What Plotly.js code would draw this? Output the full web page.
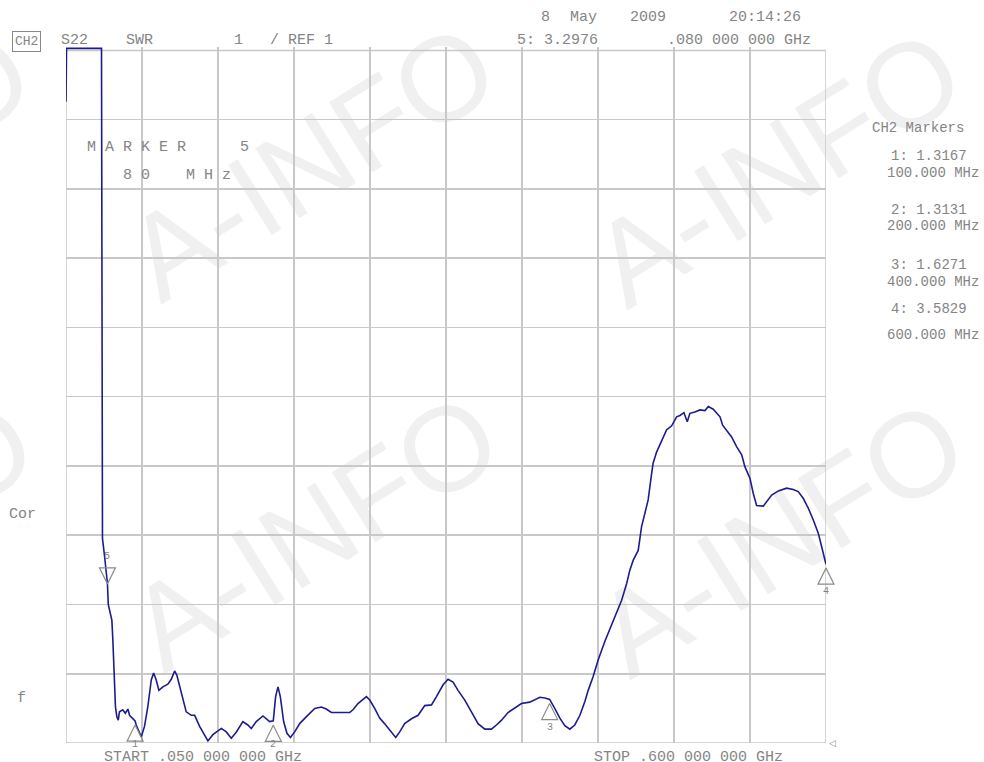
<!DOCTYPE html>
<html><head><meta charset="utf-8">
<script src="https://cdn.plot.ly/plotly-3.0.1.min.js"></script>
<style>html,body{margin:0;padding:0;background:#fff;}#chart{width:984px;height:762px;}</style>
</head><body><div id="chart"></div>
<script>
// ---- data ----
const freqMHz = [
 50, 50.2, 50.4, 75.7, 76.1, 76.4, 77.9, 79.2, 80.0, 80.6,
 82.0, 83.2, 83.9, 84.6, 85.8, 86.8, 87.8, 88.7, 91.1, 92.9,
 94.8, 96.0, 98.4, 100.0, 100.8, 103.2, 104.5, 106.8, 109.2, 111.7,
 113.4, 115.3, 117.2, 120.1, 123.7, 126.2, 128.6, 130.2, 132.2, 134.6,
 137.0, 140.7, 143.1, 146.7, 152.7, 156.3, 162.4, 166.0, 169.6, 173.3,
 178.0, 181.6, 184.1, 187.7, 192.5, 197.4, 200.0, 201.7, 203.4, 205.1,
 207.5, 209.9, 212.4, 215.5, 219.1, 224.0, 230.0, 234.8, 238.4, 242.0,
 255.3, 257.7, 261.3, 267.4, 269.8, 273.4, 277.0, 280.5, 284.3, 288.6,
 291.5, 295.1, 300.0, 304.8, 309.6, 314.5, 318.1, 322.9, 326.5, 330.1,
 333.7, 338.6, 343.4, 348.2, 353.1, 357.9, 361.5, 365.2, 369.9, 374.8,
 379.6, 385.6, 389.3, 392.9, 396.5, 400.0, 403.7, 407.4, 411.0, 414.6,
 418.2, 421.9, 425.5, 427.9, 431.5, 435.1, 440.0, 445.0, 448.6, 452.1,
 455.7, 458.1, 460.5, 464.1, 466.5, 468.9, 471.3, 473.8, 474.9, 477.4,
 481.0, 484.6, 488.3, 491.9, 494.3, 497.2, 499.6, 501.5, 505.1, 508.8,
 512.4, 514.8, 518.4, 520.9, 523.3, 525.2, 528.1, 531.7, 535.3, 539.0,
 541.3, 545.0, 547.4, 549.8, 554.6, 558.2, 560.7, 565.5, 571.5, 576.3,
 579.9, 583.6, 587.2, 590.8, 594.4, 596.9, 600.0
];
const swr = [
 10.26, 10.64, 11.03, 11.03, 7.4, 3.95, 3.7, 3.42, 3.3, 3.0,
 2.85, 2.77, 2.49, 2.10, 1.52, 1.38, 1.33, 1.45, 1.48, 1.43,
 1.49, 1.40, 1.35, 1.32, 1.26, 1.14, 1.09, 1.24, 1.52, 1.91,
 2.01, 1.91, 1.76, 1.81, 1.85, 1.92, 2.04, 1.98, 1.81, 1.62,
 1.45, 1.40, 1.40, 1.24, 1.03, 1.12, 1.21, 1.16, 1.07, 1.16,
 1.31, 1.26, 1.21, 1.31, 1.39, 1.31, 1.32, 1.67, 1.81, 1.67,
 1.31, 1.14, 1.08, 1.16, 1.28, 1.38, 1.50, 1.52, 1.49, 1.44,
 1.44, 1.48, 1.57, 1.67, 1.62, 1.50, 1.36, 1.28, 1.19, 1.08,
 1.16, 1.28, 1.35, 1.40, 1.54, 1.55, 1.67, 1.84, 1.92, 1.88,
 1.76, 1.62, 1.45, 1.28, 1.20, 1.20, 1.26, 1.33, 1.44, 1.50,
 1.57, 1.59, 1.62, 1.66, 1.65, 1.63, 1.50, 1.36, 1.25, 1.20,
 1.26, 1.40, 1.60, 1.76, 1.96, 2.20, 2.47, 2.72, 2.89, 3.06,
 3.30, 3.50, 3.64, 3.78, 4.12, 4.31, 4.51, 4.89, 5.04, 5.20,
 5.37, 5.52, 5.58, 5.71, 5.73, 5.77, 5.64, 5.76, 5.78, 5.81,
 5.80, 5.86, 5.82, 5.76, 5.71, 5.59, 5.52, 5.42, 5.28, 5.16,
 4.99, 4.82, 4.60, 4.43, 4.42, 4.51, 4.58, 4.64, 4.68, 4.66,
 4.63, 4.53, 4.39, 4.22, 4.03, 3.83, 3.58
];
const markerNum = ['1', '2', '3', '4', '5'];
const markerFreqMHz = [100, 200, 400, 600, 80];
const markerSWR = [1.3167, 1.3131, 1.6271, 3.5829, 3.2976];
const markerReadout = ['1: 1.3167', '2: 1.3131', '3: 1.6271', '4: 3.5829'];
const markerFreqLabel = ['100.000 MHz', '200.000 MHz', '400.000 MHz', '600.000 MHz'];
const dateWords = ['8', 'May', '2009', '20:14:26'];
const activeMarkerText = ['5: 3.2976', '.080 000 000 GHz'];
const startLabel = 'START .050 000 000 GHz';
const stopLabel = 'STOP .600 000 000 GHz';
const watermark = 'A-INFO';

// ---- geometry helpers ----
const L = 66, T = 47, W = 760, H = 696;
const YMAX = 11.05;
const px = x => (x - L) / W;
const py = y => (T + H - y) / H;
const GREY = '#858585';
const MONO = 'Liberation Mono, DejaVu Sans Mono, monospace';

function ann(text, x, y, o) {
  o = o || {};
  return Object.assign({
    text: text, xref: 'paper', yref: 'paper', x: px(x), y: py(y),
    xanchor: 'left', yanchor: 'middle', showarrow: false,
    font: {family: MONO, size: 15, color: GREY}
  }, o);
}

const annotations = [
  ann('CH2', 26.5, 41, {xanchor: 'center', bordercolor: '#888', borderwidth: 1, borderpad: 2, font: {family: MONO, size: 13, color: GREY}}),
  ann('S22', 59, 40),
  ann('SWR', 124, 40),
  ann('1   / REF 1', 232, 40),
  ann(dateWords[0], 545, 18, {xanchor: 'center'}),
  ann(dateWords[1], 583, 18, {xanchor: 'center'}),
  ann(dateWords[2], 648, 18, {xanchor: 'center'}),
  ann(dateWords[3], 765, 18, {xanchor: 'center'}),
  ann(activeMarkerText[0], 515, 40),
  ann(activeMarkerText[1], 813, 40, {xanchor: 'right'}),
  ann('M A R K E R      5', 85, 147),
  ann('8 0    M H z', 121, 176),
  ann('CH2 Markers', 870, 128, {font: {family: MONO, size: 14, color: GREY}}),
  ann('Cor', 7, 514),
  ann('f', 15, 698),
  ann(startLabel, 102, 757),
  ann(stopLabel, 592, 757),
  ann('◁', 827, 743, {font: {family: 'DejaVu Sans', size: 9, color: GREY}})
];
const readY = [156, 210, 265, 309];
const freqY = [173, 226, 282, 335];
markerReadout.forEach((t, i) => annotations.push(ann(t, 969, readY[i], {xanchor: 'right', font: {family: MONO, size: 14, color: GREY}})));
markerFreqLabel.forEach((t, i) => annotations.push(ann(t, 981, freqY[i], {xanchor: 'right', font: {family: MONO, size: 14, color: GREY}})));
// marker numbers, placed at the marker data positions
const numShift = [-23, -23, -28, -27, 27];
markerNum.forEach((t, i) => annotations.push({
  text: t, xref: 'x', yref: 'y', x: markerFreqMHz[i], y: markerSWR[i],
  xanchor: 'center', yanchor: 'middle', showarrow: false,
  yshift: numShift[i], font: {family: MONO, size: 10, color: GREY}
}));

const shapes = [
  {type: 'rect', xref: 'x', yref: 'y', x0: 50, x1: 600, y0: 1, y1: 11,
   line: {color: '#c8c8c8', width: 1.5}, layer: 'below'}
];
// watermark text, below the grid
const wmCenters = [[305, 152], [308, 522], [771, 158], [774, 528], [-160, 158], [-157, 528]];
wmCenters.forEach(c => {
  shapes.push({
    type: 'rect', xref: 'paper', yref: 'paper',
    x0: px(c[0] - 190), x1: px(c[0] + 190), y0: py(c[1] + 130), y1: py(c[1] - 130),
    line: {width: 0, color: 'rgba(0,0,0,0)'}, fillcolor: 'rgba(0,0,0,0)', layer: 'below',
    label: {text: watermark, textangle: -32, textposition: 'middle center',
            font: {family: 'Liberation Sans, Arial, sans-serif', size: 120, color: '#f0f0f0'}}
  });
});

const axisCommon = {
  showgrid: true, gridcolor: '#c8c8c8', gridwidth: 1.5,
  showticklabels: false, ticks: '', zeroline: false, showline: false, fixedrange: true
};
// the marker triangles sit a few pixels under the trace: a hidden overlay axis shifted by 4 px
const shift = 4 * (YMAX - 1) / H;
const layout = {
  width: 984, height: 762,
  margin: {l: L, r: 984 - L - W, t: T, b: 762 - T - H, pad: 0},
  paper_bgcolor: '#ffffff', plot_bgcolor: 'rgba(0,0,0,0)',
  showlegend: false,
  xaxis: Object.assign({range: [50, 600], tick0: 50, dtick: 55}, axisCommon),
  yaxis: Object.assign({range: [1, YMAX], tick0: 1, dtick: 1}, axisCommon),
  yaxis2: {overlaying: 'y', range: [1 + shift, YMAX + shift], visible: false, fixedrange: true},
  annotations: annotations,
  shapes: shapes
};
const upIdx = [0, 1, 2, 3];
const traces = [
  {
    type: 'scatter', mode: 'lines', x: freqMHz, y: swr,
    line: {color: '#1c1c8e', width: 1.6}, hoverinfo: 'skip', name: 'S22 SWR'
  },
  {
    type: 'scatter', mode: 'markers', yaxis: 'y2', cliponaxis: false,
    x: upIdx.map(i => markerFreqMHz[i]), y: upIdx.map(i => markerSWR[i]),
    marker: {symbol: 'arrow-up-open', size: 16, color: '#8c8c8c', line: {color: '#8c8c8c', width: 1.2}},
    hoverinfo: 'skip', name: 'markers'
  },
  {
    type: 'scatter', mode: 'markers', cliponaxis: false,
    x: [markerFreqMHz[4]], y: [markerSWR[4]],
    marker: {symbol: 'arrow-down-open', size: 16, color: '#8c8c8c', line: {color: '#8c8c8c', width: 1.2}},
    hoverinfo: 'skip', name: 'marker 5'
  }
];
Plotly.newPlot('chart', traces, layout, {staticPlot: true, displayModeBar: false});
</script></body></html>
